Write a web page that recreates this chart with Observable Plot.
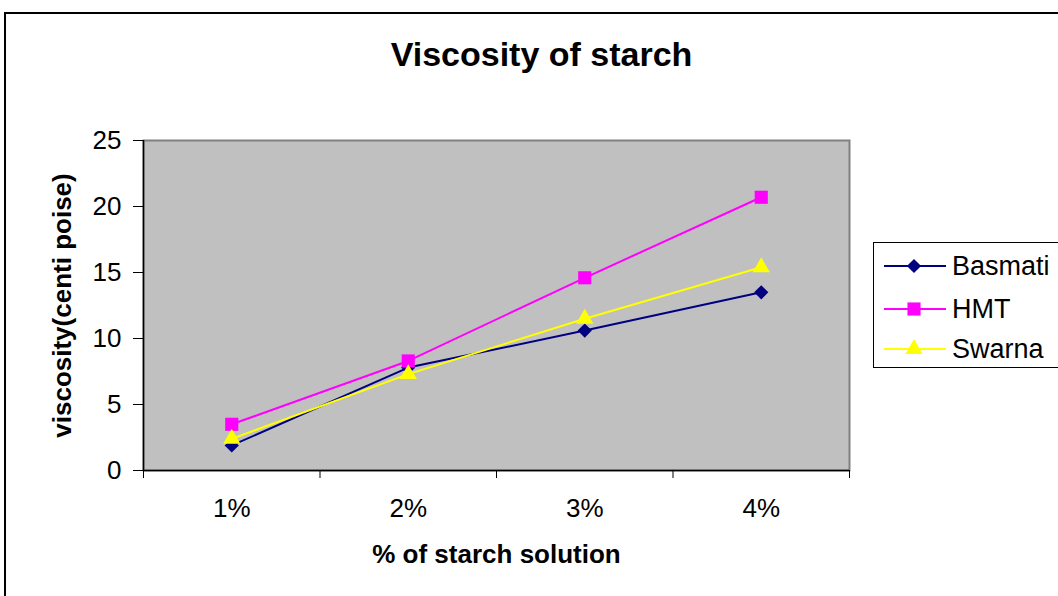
<!DOCTYPE html>
<html>
<head>
<meta charset="utf-8">
<script src="https://cdn.jsdelivr.net/npm/d3@7"></script>
<script src="https://cdn.jsdelivr.net/npm/@observablehq/plot@0.6"></script>
<style>
  html, body { margin: 0; padding: 0; background: #fff; }
  #wrap { position: relative; width: 1058px; height: 596px; overflow: hidden; font-family: "Liberation Sans", Arial, sans-serif; }
  #border { position: absolute; left: 4px; top: 12px; width: 1200px; height: 800px; border-left: 2px solid #000; border-top: 2px solid #000; box-sizing: border-box; }
  #chart { position: absolute; left: 0; top: 0; }
  #legend { position: absolute; left: 873px; top: 242px; width: 220px; height: 126px; border: 1px solid #000; background: #fff; box-sizing: border-box; }
  .row { position: absolute; left: 0; height: 30px; width: 220px; }
  .row svg { position: absolute; left: 8px; top: 0; }
  .row span { position: absolute; left: 78px; top: 0; line-height: 30px; font-size: 27px; color: #000; }
</style>
</head>
<body>
<div id="wrap">
  <div id="border"></div>
  <div id="chart"></div>
  <div id="legend"></div>
</div>
<script>
const categories = ["1%", "2%", "3%", "4%"];
const seriesNames = ["Basmati", "HMT", "Swarna"];
const basmati = [1.9, 7.8, 10.6, 13.5];
const hmt = [3.5, 8.3, 14.6, 20.7];
const swarna = [2.4, 7.3, 11.5, 15.4];
const yTicks = [0, 5, 10, 15, 20, 25];
const titleText = "Viscosity of starch";
const xTitle = "% of starch solution";
const yTitle = "viscosity(centi poise)";

const colors = {Basmati: "#000080", HMT: "#ff00ff", Swarna: "#ffff00"};
const symbols = {Basmati: "diamond2", HMT: "square", Swarna: "triangle"};
const radii = {Basmati: 6.4, HMT: 7.4, Swarna: 6.4};
const d3symbols = {Basmati: d3.symbolDiamond2, HMT: d3.symbolSquare, Swarna: d3.symbolTriangle};

const values = {Basmati: basmati, HMT: hmt, Swarna: swarna};
const rows = [];
seriesNames.forEach(s => values[s].forEach((v, i) => rows.push({series: s, idx: i + 1, cat: categories[i], value: v})));

const seriesMarks = [];
seriesNames.forEach(s => {
  const d = rows.filter(r => r.series === s);
  seriesMarks.push(Plot.line(d, {x: "idx", y: "value", stroke: colors[s], strokeWidth: 2}));
});
seriesNames.forEach(s => {
  const d = rows.filter(r => r.series === s);
  seriesMarks.push(Plot.dot(d, {x: "idx", y: "value", symbol: () => symbols[s], fill: colors[s], stroke: "none", r: radii[s]}));
});

const boundaries = d3.range(categories.length + 1).map(i => i + 0.5);

const chart = Plot.plot({
  width: 1058,
  height: 596,
  marginLeft: 143,
  marginRight: 209,
  marginTop: 140,
  marginBottom: 126,
  style: {fontFamily: "'Liberation Sans', Arial, sans-serif", fontSize: "26px", background: "transparent", color: "#000", overflow: "visible"},
  x: {domain: [0.5, categories.length + 0.5], axis: null},
  y: {domain: [0, 25], axis: null},
  symbol: {type: "identity"},
  marks: [
    Plot.frame({fill: "#c0c0c0", stroke: "#808080", strokeWidth: 2}),
    Plot.axisY({ticks: yTicks, tickSize: 10, tickPadding: 12, label: null, fontSize: 26}),
    Plot.axisX({ticks: boundaries, tickFormat: () => "", tickSize: 8, label: null}),
    Plot.axisX({ticks: categories.map((c, i) => i + 1), tickFormat: d => categories[d - 1], tickSize: 0, tickPadding: 28, label: null, fontSize: 26}),
    Plot.ruleY([0], {stroke: "#000", strokeWidth: 1.5}),
    Plot.ruleX([0.5], {stroke: "#000", strokeWidth: 1.5}),
    ...seriesMarks,
    Plot.text([titleText], {frameAnchor: "top", lineAnchor: "middle", textAnchor: "middle", dy: -85, dx: 45, fontSize: 34, fontWeight: "bold", fill: "#000"}),
    Plot.text([xTitle], {frameAnchor: "bottom", lineAnchor: "middle", textAnchor: "middle", dy: 84, fontSize: 26, fontWeight: "bold", fill: "#000"}),
    Plot.text([yTitle], {frameAnchor: "left", lineAnchor: "middle", textAnchor: "middle", dx: -81, rotate: -90, fontSize: 26, fontWeight: "bold", fill: "#000"})
  ]
});
document.getElementById("chart").appendChild(chart);

// Legend
const legend = document.getElementById("legend");
const rowTops = [8, 51, 91];
seriesNames.forEach((s, i) => {
  const row = document.createElement("div");
  row.className = "row";
  row.style.top = rowTops[i] + "px";
  const svg = d3.create("svg").attr("width", 66).attr("height", 30);
  svg.append("line").attr("x1", 2).attr("x2", 64).attr("y1", 15).attr("y2", 15).attr("stroke", colors[s]).attr("stroke-width", 2);
  const size = Math.PI * radii[s] * radii[s];
  svg.append("path").attr("d", d3.symbol(d3symbols[s], size)()).attr("transform", "translate(32,15)").attr("fill", colors[s]);
  row.appendChild(svg.node());
  const span = document.createElement("span");
  span.textContent = s;
  row.appendChild(span);
  legend.appendChild(row);
});
</script>
</body>
</html>
